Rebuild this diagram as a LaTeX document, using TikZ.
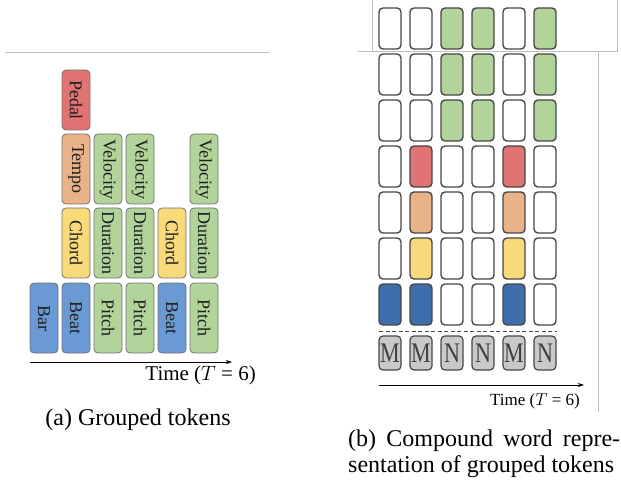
\documentclass[tikz,border=0pt]{standalone}
\usepackage{fontspec}
\setmainfont{Liberation Serif}
\usetikzlibrary{arrows.meta}
\definecolor{cW}{HTML}{FFFFFF}
\definecolor{cG}{HTML}{B2D39A}
\definecolor{cR}{HTML}{E07373}
\definecolor{cO}{HTML}{EAB288}
\definecolor{cY}{HTML}{F8DA7A}
\definecolor{cB}{HTML}{3F6EAC}
\definecolor{cBl}{HTML}{6B99D3}
\definecolor{cM}{HTML}{C9C9C9}
\definecolor{cN}{HTML}{C9C9C9}
\definecolor{frameg}{HTML}{BDBDBD}
\tikzset{
  tok/.style={draw=black!55, line width=0.8pt, rounded corners=4pt, rotate=-90,
    minimum width=70pt, minimum height=28pt, inner sep=0pt,
    font=\fontsize{18}{18}\selectfont, text=black!88},
  cell/.style={draw=black!72, line width=1.4pt, rounded corners=4pt,
    minimum width=22pt, minimum height=41pt, inner sep=0pt},
  mcell/.style={draw=black!72, line width=1.2pt, rounded corners=4pt, fill=cM,
    minimum width=22pt, minimum height=34pt, inner sep=0pt, text=black!75},
  axis/.style={-{Stealth[length=6pt,width=4pt]}, line width=0.8pt},
  frame/.style={draw=frameg, line width=0.8pt},
}
\begin{document}
\begin{tikzpicture}[x=1pt,y=-1pt]
\useasboundingbox (0,0) rectangle (621,481);
% frames
\draw[frame] (5,52) -- (270,52);
\draw[frame] (372,0) -- (372,51) -- (617,51) -- (617,0);
\draw[frame] (358,51) -- (372,51);
\draw[frame] (598,51) -- (598,412);
% left panel
\node[tok, fill=cR, minimum width=60pt] (pedal) at (76,100) {Pedal};
\node[tok, fill=cO] (tempo) at (76,169) {Tempo};
\node[tok, fill=cG] (vel1) at (108,169) {Velocity};
\node[tok, fill=cG] (vel2) at (140,169) {Velocity};
\node[tok, fill=cG] (vel3) at (204,169) {Velocity};
\node[tok, fill=cY] (chord1) at (76,243) {Chord};
\node[tok, fill=cG] (dur1) at (108,243) {Duration};
\node[tok, fill=cG] (dur2) at (140,243) {Duration};
\node[tok, fill=cY] (chord2) at (172,243) {Chord};
\node[tok, fill=cG] (dur3) at (204,243) {Duration};
\node[tok, fill=cBl] (bar) at (44,318) {Bar};
\node[tok, fill=cBl] (beat1) at (76,318) {Beat};
\node[tok, fill=cG] (pitch1) at (108,318) {Pitch};
\node[tok, fill=cG] (pitch2) at (140,318) {Pitch};
\node[tok, fill=cBl] (beat2) at (172,318) {Beat};
\node[tok, fill=cG] (pitch3) at (204,318) {Pitch};
\coordinate (la0) at (30,362);
\coordinate (la1) at (232,362);
\draw[axis] (la0) -- (la1);
\node[anchor=east, font=\fontsize{21}{21}\selectfont, inner sep=0pt] (ltime) at (256,375) {Time ($T$ = 6)};
\node[font=\fontsize{24}{24}\selectfont, inner sep=0pt] (capa) at (138,420) {(a) Grouped tokens};
% right panel
\foreach [count=\r] \row in {{W,W,G,G,W,G},{W,W,G,G,W,G},{W,W,G,G,W,G},{W,R,W,W,R,W},{W,O,W,W,O,W},{W,Y,W,W,Y,W},{B,B,W,W,B,W}}{
  \foreach [count=\c] \col in \row {
    \node[cell, fill=c\col] (r\r c\c) at ({359+31*\c},{8+20.5+46*(\r-1)}) {};
  }
}
\coordinate (dl0) at (379,331);
\coordinate (dl1) at (557,331);
\draw[dashed, line width=1pt, black!70, dash pattern=on 4pt off 2.5pt] (dl0) -- (dl1);
\foreach [count=\c] \t in {M,M,N,N,M,N}{
  \node[mcell] (m\c) at ({359+31*\c},353) {\scalebox{1.05}[1.35]{\fontsize{21}{21}\selectfont$\mathrm{\t}$}};
}
\coordinate (ra0) at (379,385);
\coordinate (ra1) at (584,385);
\draw[axis] (ra0) -- (ra1);
\node[anchor=east, font=\fontsize{17}{17}\selectfont, inner sep=0pt] (rtime) at (580,401) {Time ($T$ = 6)};
\node[anchor=north west, inner sep=0pt, font=\fontsize{24}{26}\selectfont] (capb) at (348,430)
  {\parbox{272pt}{(b) Compound word repre-\linebreak sentation of grouped tokens}};
\end{tikzpicture}
\end{document}
